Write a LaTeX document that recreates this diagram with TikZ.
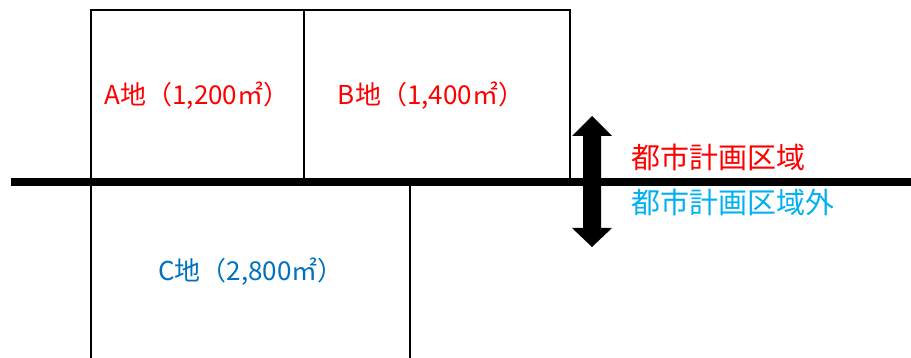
\documentclass[tikz,border=0pt]{standalone}
\usepackage{fontspec}
\setmainfont{Noto Sans CJK JP}
\definecolor{lotred}{HTML}{FF0000}
\definecolor{lotblue}{HTML}{0070C0}
\definecolor{outblue}{HTML}{00B0F0}
\begin{document}
\begin{tikzpicture}[x=1pt,y=-1pt,
  thin line/.style={line width=2pt},
  lotlabel/.style={font=\fontsize{26}{30}\selectfont, inner sep=0pt},
  arealabel/.style={font=\fontsize{29}{32}\selectfont, inner sep=0pt, anchor=west}]
\useasboundingbox (0,0) rectangle (911,358);
% coordinates
\coordinate (tl) at (91,10);
\coordinate (tm) at (304,10);
\coordinate (tr) at (570,10);
\coordinate (ml) at (91,182);
\coordinate (mm) at (304,182);
\coordinate (mr) at (570,182);
\coordinate (bl) at (91,358);
\coordinate (bm) at (410,182);
\coordinate (br) at (410,358);
\coordinate (ls) at (11,182);
\coordinate (le) at (911,182);
% boxes
\draw[thin line] (ml) -- (tl) -- (tr) -- (mr);
\draw[thin line] (tm) -- (mm);
\draw[thin line] (ml) -- (bl);
\draw[thin line] (bm) -- (br);
% boundary line
\draw[line width=7.5pt] (ls) -- (le);
% double arrow
\fill (592,116) -- (612,136) -- (601,136) -- (601,228) -- (612,228) -- (592,247)
  -- (572,228) -- (583,228) -- (583,136) -- (572,136) -- cycle;
% labels
\node[lotlabel, text=lotred] (a) at (197,96) {A地（1,200㎡）};
\node[lotlabel, text=lotred] (b) at (431,96) {B地（1,400㎡）};
\node[lotlabel, text=lotblue] (c) at (251,272) {C地（2,800㎡）};
\node[arealabel, text=lotred] (in) at (631,157) {都市計画区域};
\node[arealabel, text=outblue] (out) at (631,202) {都市計画区域外};
\end{tikzpicture}
\end{document}
